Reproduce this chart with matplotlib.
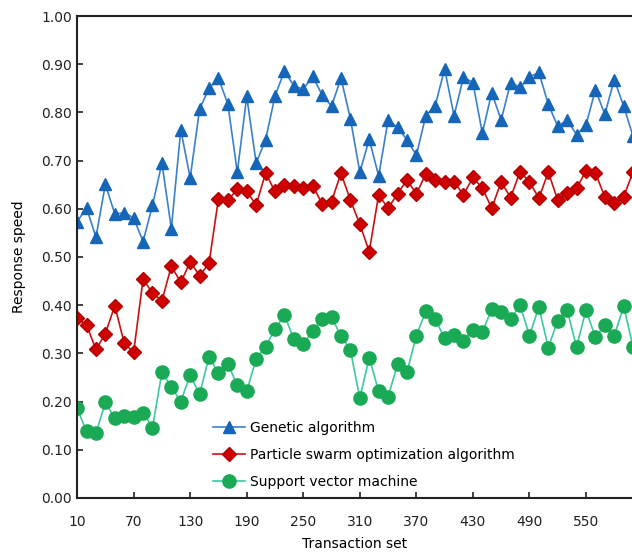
import numpy as np
import matplotlib
matplotlib.use("Agg")
import matplotlib.pyplot as plt
from matplotlib.ticker import FormatStrFormatter

# Transaction sets 10, 20, ..., 600
transaction_set = list(range(10, 610, 10))

genetic = [0.573, 0.602, 0.541, 0.651, 0.589, 0.592, 0.581, 0.532, 0.607, 0.695,
           0.559, 0.764, 0.664, 0.807, 0.850, 0.871, 0.817, 0.676, 0.833, 0.695,
           0.743, 0.834, 0.886, 0.855, 0.848, 0.875, 0.836, 0.813, 0.871, 0.787,
           0.676, 0.744, 0.668, 0.784, 0.769, 0.743, 0.711, 0.793, 0.814, 0.890,
           0.793, 0.873, 0.862, 0.757, 0.841, 0.784, 0.862, 0.852, 0.873, 0.883,
           0.817, 0.771, 0.784, 0.754, 0.774, 0.847, 0.796, 0.868, 0.813, 0.750]

pso = [0.373, 0.359, 0.308, 0.341, 0.399, 0.321, 0.302, 0.454, 0.425, 0.409,
       0.481, 0.447, 0.490, 0.461, 0.487, 0.621, 0.618, 0.640, 0.636, 0.608,
       0.674, 0.636, 0.649, 0.647, 0.644, 0.648, 0.610, 0.615, 0.674, 0.618,
       0.568, 0.511, 0.629, 0.601, 0.631, 0.660, 0.631, 0.672, 0.660, 0.656,
       0.656, 0.629, 0.665, 0.643, 0.601, 0.656, 0.623, 0.677, 0.656, 0.622,
       0.676, 0.618, 0.633, 0.643, 0.678, 0.674, 0.625, 0.611, 0.625, 0.677]

svm = [0.186, 0.138, 0.134, 0.198, 0.165, 0.170, 0.167, 0.177, 0.146, 0.261,
       0.230, 0.200, 0.255, 0.215, 0.293, 0.259, 0.278, 0.234, 0.222, 0.288,
       0.314, 0.350, 0.380, 0.329, 0.319, 0.347, 0.371, 0.375, 0.336, 0.307,
       0.207, 0.291, 0.221, 0.210, 0.277, 0.261, 0.337, 0.387, 0.371, 0.331,
       0.338, 0.326, 0.349, 0.345, 0.391, 0.385, 0.371, 0.400, 0.337, 0.396,
       0.312, 0.368, 0.390, 0.313, 0.390, 0.333, 0.359, 0.336, 0.398, 0.313]

labels = ["Genetic algorithm",
          "Particle swarm optimization algorithm",
          "Support vector machine"]
x_ticks = list(range(10, 551, 60))
y_ticks = [i / 10 for i in range(11)]

plt.rcParams["font.family"] = ["DejaVu Sans"]
plt.rcParams["font.size"] = 10

fig = plt.figure(figsize=(6.32, 5.52), dpi=100)
ax = fig.add_axes([0.122, 0.098, 0.879, 0.873])

ax.plot(transaction_set, genetic, color="#3a80cc", lw=1.2, marker="^", ms=9,
        mfc="#1565b8", mec="#1565b8", label=labels[0])
ax.plot(transaction_set, pso, color="#cc1010", lw=1.2, marker="D", ms=7.5,
        mfc="#d00000", mec="#b00000", label=labels[1])
ax.plot(transaction_set, svm, color="#3cc8a0", lw=1.2, marker="o", ms=9.5,
        mfc="#1aaa55", mec="#1aaa55", label=labels[2])

ax.set_xlim(10, 599.5)
ax.set_ylim(0, 1.0)
ax.set_xticks(x_ticks)
ax.set_yticks(y_ticks)
ax.yaxis.set_major_formatter(FormatStrFormatter("%.2f"))
ax.tick_params(direction="in", length=4, width=1.2, colors="#222222", labelsize=10)
ax.tick_params(axis="x", pad=12)
ax.set_xlabel("Transaction set", fontsize=10, labelpad=6)
ax.set_ylabel("Response speed", fontsize=10, labelpad=11)

for side in ["left", "bottom", "top"]:
    ax.spines[side].set_linewidth(1.5)
    ax.spines[side].set_color("#222222")
ax.spines["right"].set_visible(False)

ax.legend(loc="lower left", bbox_to_anchor=(0.222, -0.008), frameon=False,
          handlelength=2.3, handletextpad=0.4, labelspacing=0.95, fontsize=10)

fig.savefig("out.png", dpi=100)
